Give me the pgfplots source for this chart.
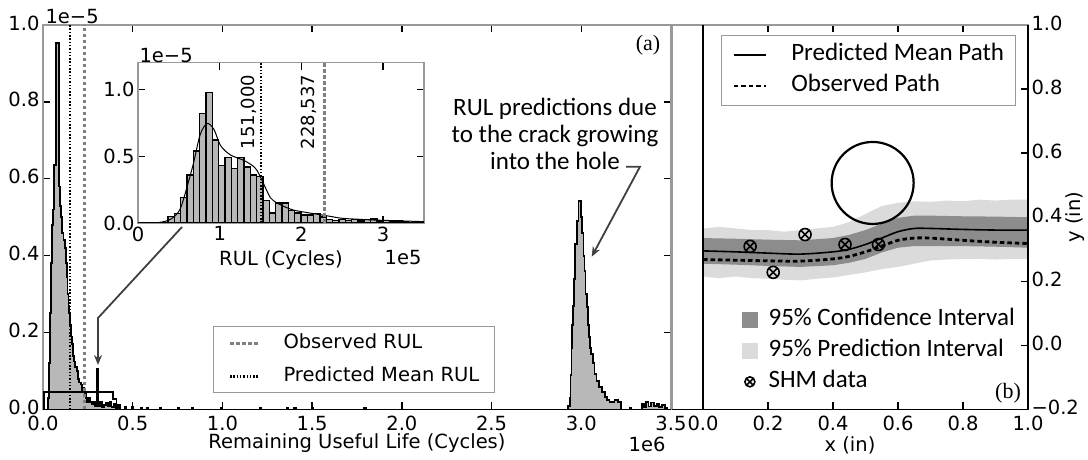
\documentclass[border=0pt]{standalone}
\usepackage{fontspec}
\setmainfont{DejaVu Sans}
\newfontfamily\calibri{Carlito}
\newfontfamily\timesf{Liberation Serif}
\usepackage{pgfplots}
\pgfplotsset{compat=1.18}
\usetikzlibrary{plotmarks,arrows.meta}

\definecolor{histgray}{gray}{0.72}
\definecolor{framegray}{gray}{0.6}
\definecolor{darkband}{gray}{0.55}
\definecolor{lightband}{gray}{0.86}
\definecolor{arrowgray}{gray}{0.25}
\definecolor{obsgray}{gray}{0.5}

\newcommand{\tickfont}{\fontsize{19.5}{22}\selectfont}
\newcommand{\notefont}{\calibri\fontsize{25}{27}\selectfont}

\pgfplotsset{
  panel/.style={
    scale only axis,
    tick align=inside,
    major tick length=7pt,
    tick style={black, line width=1.4pt},
    axis line style={framegray, line width=1.2pt},
    font=\tickfont,
    /pgf/number format/assume math mode=true,
    clip mode=individual,
  },
}

\begin{document}
\begin{tikzpicture}[x=1pt,y=1pt]
\path[use as bounding box] (0,0) rectangle (1088,460);

% ---------------- panel (a) ----------------
\begin{axis}[panel,
  at={(43pt,50.5pt)}, anchor=south west,
  width=628pt, height=384.5pt,
  xmin=0, xmax=3.5, ymin=0, ymax=1.0,
  xtick={0,0.5,1,1.5,2,2.5,3,3.5},
  xticklabels={0.0,0.5,1.0,1.5,2.0,2.5,3.0,3.5},
  xticklabel style={yshift=-3pt},
  ytick={0,0.2,0.4,0.6,0.8,1.0},
  yticklabels={0.0,0.2,0.4,0.6,0.8,1.0},
  yticklabel style={yshift=2pt},
  xlabel={Remaining Useful Life (Cycles)},
  every axis x label/.style={at={(axis description cs:0.5,0)}, anchor=center, yshift=-33.5pt},
  legend style={at={(0.2707,0.0417)}, anchor=south west,
    draw=framegray, line width=1pt, font=\tickfont,
    inner xsep=15pt, inner ysep=7.5pt, row sep=15pt,
    nodes={inner sep=0pt, text height=14pt, text depth=4pt},
    /tikz/every odd column/.append style={column sep=23pt}},
  legend cell align=left,
  legend image code/.code={\draw[#1] (0pt,0pt) -- (29pt,0pt);},
]
\addplot[const plot, fill=histgray, draw=black, line width=1.8pt, forget plot] coordinates {
(0,0)(0.030,0.03)(0.035,0.12)(0.040,0.25)(0.045,0.38)(0.050,0.48)(0.055,0.52)
(0.061,0.635)(0.072,0.954)(0.088,0.58)(0.095,0.53)(0.100,0.50)(0.106,0.46)
(0.114,0.44)(0.122,0.42)(0.127,0.38)(0.132,0.345)(0.137,0.30)(0.142,0.27)
(0.147,0.25)(0.152,0.22)(0.157,0.19)(0.162,0.17)(0.167,0.14)(0.172,0.125)
(0.180,0.11)(0.188,0.10)(0.195,0.08)(0.202,0.07)(0.210,0.065)(0.217,0.05)
(0.224,0.055)(0.231,0.04)(0.238,0.03)(0.246,0.02)(0.255,0.03)(0.263,0.02)
(0.271,0.015)(0.280,0.02)(0.290,0.01)(0.303,0.105)(0.308,0.01)(0.318,0.02)
(0.328,0.005)(0.340,0.012)(0.352,0.018)(0.362,0.008)(0.372,0.02)(0.382,0.006)
(0.395,0.015)(0.405,0.004)(0.420,0.012)(0.430,0)(0.455,0.008)(0.462,0)
(0.495,0.006)(0.502,0)(0.545,0.005)(0.555,0)(0.58,0.005)(0.588,0)
(0.65,0.005)(0.658,0)(0.75,0.005)(0.758,0)(0.83,0.005)(0.838,0)
(0.99,0.005)(0.998,0)(1.21,0.005)(1.218,0)(1.36,0.005)(1.368,0)
(1.40,0.005)(1.408,0)(1.50,0.005)(1.508,0)(1.79,0.005)(1.798,0)
(2.925,0.01)(2.935,0.03)(2.940,0.09)(2.945,0.16)(2.950,0.22)(2.955,0.27)
(2.960,0.34)(2.966,0.43)(2.976,0.49)(2.985,0.542)(2.998,0.50)(3.005,0.458)
(3.012,0.40)(3.018,0.36)(3.024,0.30)(3.030,0.266)(3.036,0.22)(3.042,0.188)
(3.050,0.16)(3.056,0.145)(3.064,0.12)(3.074,0.093)(3.085,0.075)(3.100,0.058)
(3.115,0.045)(3.130,0.032)(3.145,0.025)(3.157,0.019)(3.170,0.02)(3.185,0.025)
(3.205,0.02)(3.220,0)(3.27,0.005)(3.278,0)
(3.34,0.015)(3.35,0.006)(3.36,0.02)(3.375,0.008)(3.39,0.018)(3.405,0.01)
(3.42,0.015)(3.435,0.006)(3.45,0.012)(3.465,0.004)(3.48,0)(3.5,0)
} \closedcycle;
\addplot[black, line width=1.8pt, forget plot] coordinates {
(0.004,0)(0.004,0.045)(0.39,0.045)(0.39,0.028)(0.41,0.028)(0.41,0)};
\addplot[obsgray, line width=3pt, dash pattern=on 3.5pt off 2.5pt] coordinates {(0.2285,0)(0.2285,1)};
\addlegendentry{Observed RUL}
\addplot[black, line width=2.2pt, dash pattern=on 1.5pt off 1.8pt] coordinates {(0.151,0)(0.151,1)};
\addlegendentry{Predicted Mean RUL}
\end{axis}

% ---------------- inset ----------------
\begin{axis}[panel,
  at={(138pt,237pt)}, anchor=south west,
  width=286pt, height=160.3pt,
  xmin=0, xmax=3.5, ymin=0, ymax=1.2,
  xtick={0,1,2,3}, xticklabels={0,1,2,3},
  ytick={0,0.5,1}, yticklabels={0.0,0.5,1.0},
  axis background/.style={fill=white},
  xlabel={RUL (Cycles)},
  every axis x label/.style={at={(axis description cs:0.5,0)}, anchor=center, yshift=-37pt},
]
\addplot[ybar interval, fill=histgray, draw=black, line width=1.4pt] coordinates {
(0.367,0.05)(0.4445,0.07)(0.522,0.19)(0.5995,0.36)(0.677,0.54)(0.7545,0.82)
(0.832,0.975)(0.9095,0.62)(0.987,0.43)(1.0645,0.49)(1.142,0.41)(1.2195,0.49)
(1.297,0.42)(1.3745,0.36)(1.452,0.35)(1.5295,0.17)(1.607,0.075)(1.6845,0.15)
(1.762,0.15)(1.8395,0.095)(1.917,0.075)(1.9945,0.06)(2.072,0.06)(2.1495,0.07)
(2.227,0.045)(2.3045,0.025)(2.382,0.02)(2.4595,0.025)(2.537,0.02)(2.6145,0.025)
(2.692,0.015)(2.7695,0.025)(2.847,0.03)(2.9245,0.015)(3.002,0.02)(3.0795,0.01)
(3.157,0.015)(3.2345,0.01)(3.312,0.005)(3.3895,0.005)(3.467,0)};
\addplot[black, line width=1.4pt] coordinates {(0,0)(3.5,0)};
\addplot[black, line width=1pt, smooth] coordinates {
(0,0)(0.2,0.001)(0.3,0.008)(0.37,0.02)(0.44,0.045)(0.52,0.11)(0.6,0.27)
(0.68,0.45)(0.76,0.66)(0.845,0.745)(0.93,0.70)(1.01,0.58)(1.13,0.51)
(1.29,0.47)(1.4,0.43)(1.46,0.39)(1.54,0.29)(1.62,0.19)(1.7,0.15)
(1.8,0.12)(1.9,0.097)(2.0,0.085)(2.2,0.065)(2.35,0.05)(2.5,0.035)
(2.7,0.028)(2.9,0.022)(3.1,0.018)(3.3,0.014)(3.5,0.01)};
\addplot[black, line width=2.2pt, dash pattern=on 1.5pt off 1.8pt] coordinates {(1.51,0)(1.51,1.2)};
\addplot[obsgray, line width=3pt, dash pattern=on 3.5pt off 2.5pt] coordinates {(2.28537,0)(2.28537,1.2)};
\node[rotate=90, font=\fontsize{18}{20}\selectfont] at (axis cs:1.355,0.83) {151,000};
\node[rotate=90, font=\fontsize{18}{20}\selectfont] at (axis cs:2.09,0.83) {228,537};
\end{axis}

% ---------------- panel (b) ----------------
\begin{axis}[panel,
  at={(672pt,50.5pt)}, anchor=south west,
  width=356pt, height=384.5pt,
  xmin=-0.0954, xmax=1, ymin=-0.2, ymax=1,
  xtick={0,0.2,0.4,0.6,0.8,1},
  xticklabels={0.0,0.2,0.4,0.6,0.8,1.0},
  xticklabel style={yshift=-3pt},
  ytick={-0.2,0,0.2,0.4,0.6,0.8,1},
  yticklabels={−0.2,0.0,0.2,0.4,0.6,0.8,1.0},
  yticklabel style={yshift=2pt},
  ytick pos=right, yticklabel pos=right,
  xlabel={x (in)}, ylabel={y (in)},
  every axis x label/.style={at={(axis description cs:0.5,0)}, anchor=center, yshift=-35.5pt},
  every axis y label/.style={at={(axis description cs:1.132,0.5)}, anchor=center, rotate=90},
  legend style={at={(0.1376,0.974)}, anchor=north west,
    draw=framegray, line width=1pt, font=\notefont,
    inner xsep=11pt, inner ysep=8.5pt, row sep=9pt,
    nodes={inner sep=0pt, text height=17pt, text depth=5pt},
    /tikz/every odd column/.append style={column sep=24pt}},
  legend cell align=left,
  legend image code/.code={\draw[#1] (0pt,0pt) -- (32pt,0pt);},
]
\addplot[fill=lightband, draw=none, forget plot] coordinates {
(0,0.365)(0.05,0.37)(0.1,0.365)(0.15,0.36)(0.2,0.36)(0.25,0.355)(0.3,0.36)
(0.35,0.365)(0.4,0.37)(0.45,0.385)(0.5,0.41)(0.55,0.435)(0.6,0.445)(0.65,0.45)
(0.7,0.448)(0.75,0.452)(0.8,0.45)(0.85,0.455)(0.9,0.452)(0.95,0.455)(1.0,0.455)
(1.0,0.27)(0.95,0.27)(0.9,0.268)(0.85,0.27)(0.8,0.27)(0.75,0.268)(0.7,0.265)
(0.65,0.255)(0.6,0.245)(0.55,0.238)(0.5,0.228)(0.45,0.22)(0.4,0.212)(0.35,0.208)
(0.3,0.203)(0.25,0.205)(0.2,0.208)(0.15,0.21)(0.1,0.215)(0.05,0.21)(0,0.215)} -- cycle;
\addplot[fill=darkband, draw=none, forget plot] coordinates {
(0,0.335)(0.1,0.333)(0.2,0.33)(0.3,0.328)(0.4,0.335)(0.45,0.345)(0.5,0.36)
(0.55,0.38)(0.6,0.398)(0.65,0.405)(0.7,0.405)(0.8,0.403)(0.9,0.402)(1.0,0.4)
(1.0,0.305)(0.9,0.308)(0.8,0.31)(0.7,0.31)(0.65,0.31)(0.6,0.305)(0.55,0.29)
(0.5,0.27)(0.45,0.258)(0.4,0.25)(0.3,0.245)(0.2,0.248)(0.1,0.252)(0,0.255)} -- cycle;
\addplot[black, line width=1.6pt, smooth] coordinates {
(0,0.295)(0.1,0.292)(0.2,0.288)(0.3,0.285)(0.4,0.292)(0.45,0.30)(0.5,0.315)
(0.55,0.335)(0.6,0.355)(0.65,0.365)(0.7,0.365)(0.8,0.362)(0.9,0.36)(1.0,0.36)};
\addlegendentry{Predicted Mean Path}
\addplot[black, line width=2.8pt, dash pattern=on 4.5pt off 3pt, smooth] coordinates {
(0,0.268)(0.1,0.266)(0.2,0.264)(0.3,0.263)(0.4,0.27)(0.45,0.278)(0.5,0.292)
(0.55,0.31)(0.6,0.328)(0.65,0.335)(0.7,0.335)(0.8,0.328)(0.9,0.322)(1.0,0.318)};
\addlegendentry{Observed Path}
\addplot[only marks, mark=otimes, mark size=6pt, mark options={line width=1.6pt, black}, forget plot] coordinates {
(0.145,0.309)(0.216,0.228)(0.314,0.346)(0.437,0.315)(0.54,0.315)};
\addplot[only marks, mark=o, mark size=41pt, mark options={line width=2.2pt, black}, forget plot] coordinates {(0.522,0.507)};
\addplot[black, line width=2.6pt, forget plot] coordinates {(0,-0.2)(0,1)};
\draw[black, line width=1.2pt] (rel axis cs:0,0) -- (rel axis cs:1,0) -- (rel axis cs:1,1);
\end{axis}

% second legend of panel (b)
\begin{axis}[
  at={(672pt,50.5pt)}, anchor=south west, scale only axis,
  width=356pt, height=384.5pt, hide axis,
  xmin=0, xmax=1, ymin=0, ymax=1,
  legend style={at={(0.1966,0.2623)}, anchor=north west,
    draw=none, fill=none, font=\notefont,
    inner sep=0pt, row sep=9pt,
    nodes={inner sep=0pt, text height=17pt, text depth=5pt},
    /tikz/every odd column/.append style={column sep=11pt}},
  legend cell align=left,
]
\addlegendimage{legend image code/.code={\fill[darkband] (0pt,-7.5pt) rectangle (15pt,7.5pt);}}
\addlegendentry{95\% Confidence Interval}
\addlegendimage{legend image code/.code={\fill[lightband] (0pt,-7.5pt) rectangle (15pt,7.5pt);}}
\addlegendentry{95\% Prediction Interval}
\addlegendimage{legend image code/.code={\pgfsetlinewidth{1.6pt}\draw (7.5pt,0pt) circle (5pt); \draw (4pt,-3.5pt) -- (11pt,3.5pt); \draw (4pt,3.5pt) -- (11pt,-3.5pt);}}
\addlegendentry{SHM data}
\end{axis}

% ---------------- annotations ----------------
\node[font=\tickfont, anchor=west] at (42,443) {1e−5};
\node[font=\tickfont, anchor=east] at (669,16) {1e6};
\node[font=\tickfont, anchor=west] at (136,404) {1e−5};
\node[font=\tickfont, anchor=east] at (425,202) {1e5};
\node[font=\timesf\fontsize{22}{24}\selectfont] at (648,415) {(a)};
\node[font=\timesf\fontsize{22}{24}\selectfont] at (1008,67) {(b)};
\node[font=\notefont, align=center] at (555,326) {RUL predictions due\\to the crack growing\\into the hole};
\draw[arrowgray, line width=1.8pt, -{Stealth[length=10pt,width=8pt]}] (626,293.3) -- (640,293.3) -- (591.7,203.3);
\draw[arrowgray, line width=1.8pt, -{Stealth[length=10pt,width=8pt]}] (182,233) -- (98,142) -- (98,95);
\end{tikzpicture}
\end{document}
